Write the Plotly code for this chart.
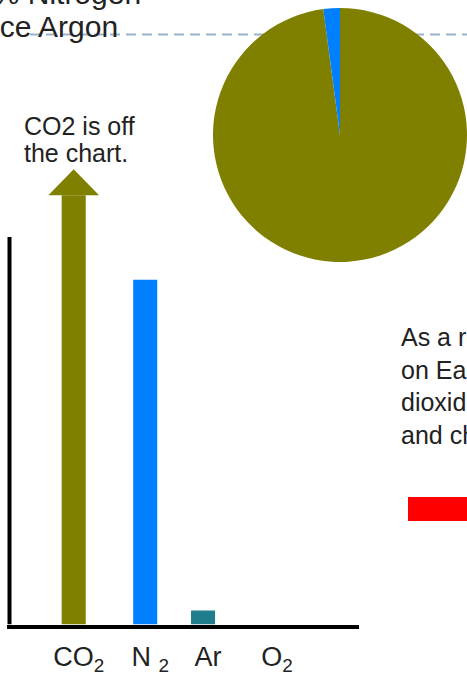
import plotly.graph_objects as go

# ---- data ----
gases = ["CO2", "N2", "Ar", "O2"]
gas_labels = ["CO<sub>2</sub>", "N <sub>2</sub>", "Ar", "O<sub>2</sub>"]
bar_values = [110.8, 89.0, 3.6, 0.0]          # CO2 runs off the chart
bar_colors = ["#808000", "#0080ff", "#1f7d8c", "#808000"]

pie_labels = ["CO2", "N2"]
pie_values = [97.9, 2.1]
pie_colors = ["#808000", "#0080ff"]

W, H = 467, 679


def px(x):
    return x / W


def py(y):
    return 1 - y / H


# slot positions of the bars along the axis
slots = [0.0, 1.1, 1.99, 3.05]
bar_w = 0.37

# vertical scale: 100 units span the drawn y axis
y_top = 118
base_px, unit_px = 624.5, 3.875

fig = go.Figure()

fig.add_trace(go.Bar(
    x=slots, y=bar_values, width=bar_w,
    marker=dict(color=bar_colors, line=dict(width=0)),
    showlegend=False, hoverinfo="skip",
))

# arrow head on top of the CO2 bar
co2_x, co2_top = slots[0], bar_values[0]
head_hw, head_h = 0.39, 6.7
fig.add_trace(go.Scatter(
    x=[co2_x - head_hw, co2_x + head_hw, co2_x, co2_x - head_hw],
    y=[co2_top, co2_top, co2_top + head_h, co2_top],
    fill="toself", fillcolor="#808000", mode="none",
    showlegend=False, hoverinfo="skip",
))

fig.add_trace(go.Pie(
    labels=pie_labels, values=pie_values, sort=False,
    direction="clockwise", rotation=0,
    marker=dict(colors=pie_colors, line=dict(width=0)),
    textinfo="none", showlegend=False, hoverinfo="skip",
    domain=dict(x=[px(213), 1], y=[py(265), py(5)]),
))

fig.update_layout(
    width=W, height=H,
    margin=dict(l=0, r=0, t=0, b=0),
    paper_bgcolor="white", plot_bgcolor="white",
    font=dict(family="Liberation Sans, Arial, sans-serif", color="#222222"),
    xaxis=dict(
        domain=[px(7), px(359)],
        range=[-(73.7 - 7) / 65, (359 - 73.7) / 65],
        showgrid=False, zeroline=False,
        showline=True, linecolor="black", linewidth=4,
        tickmode="array", tickvals=slots, ticktext=gas_labels,
        ticks="", tickfont=dict(size=27, color="#222222"),
        ticklabelshift=5, ticklabelstandoff=5,
    ),
    yaxis=dict(
        domain=[py(base_px), py(base_px - y_top * unit_px)],
        range=[0, y_top], visible=False,
    ),
)

# y axis line (stops at 100 so CO2 pokes above it)
fig.add_shape(type="line", xref="paper", yref="y",
              x0=px(9.5), x1=px(9.5), y0=0, y1=100,
              line=dict(color="black", width=4))

# dashed guide line behind the pie
fig.add_shape(type="line", xref="paper", yref="paper", layer="below",
              x0=px(30), x1=1, y0=py(34.5), y1=py(34.5),
              line=dict(color="#9ab3cb", width=2, dash="10px,6px"))

# red marker bar
fig.add_shape(type="rect", xref="paper", yref="paper",
              x0=px(408), x1=1.02, y0=py(521), y1=py(497),
              fillcolor="#ff0000", line=dict(width=0))

annotations = [
    dict(text="2.7% Nitrogen", x=px(143), y=py(-7), xanchor="right", yanchor="middle",
         font=dict(size=30)),
    dict(text="1.6% trace Argon", x=px(120), y=py(27), xanchor="right", yanchor="middle",
         font=dict(size=30)),
    dict(text="CO2 is off", x=px(22), y=py(110), xanchor="left", yanchor="top",
         font=dict(size=25)),
    dict(text="the chart.", x=px(22), y=py(137), xanchor="left", yanchor="top",
         font=dict(size=25)),
    dict(text="As a result, life<br>on Earth took carbon<br>dioxide from the air<br>and changed it",
         x=px(399), y=py(321), xanchor="left", yanchor="top", align="left",
         font=dict(size=25)),
]
for a in annotations:
    a.update(xref="paper", yref="paper", showarrow=False)
    fig.add_annotation(**a)

fig.write_html("out.html")
